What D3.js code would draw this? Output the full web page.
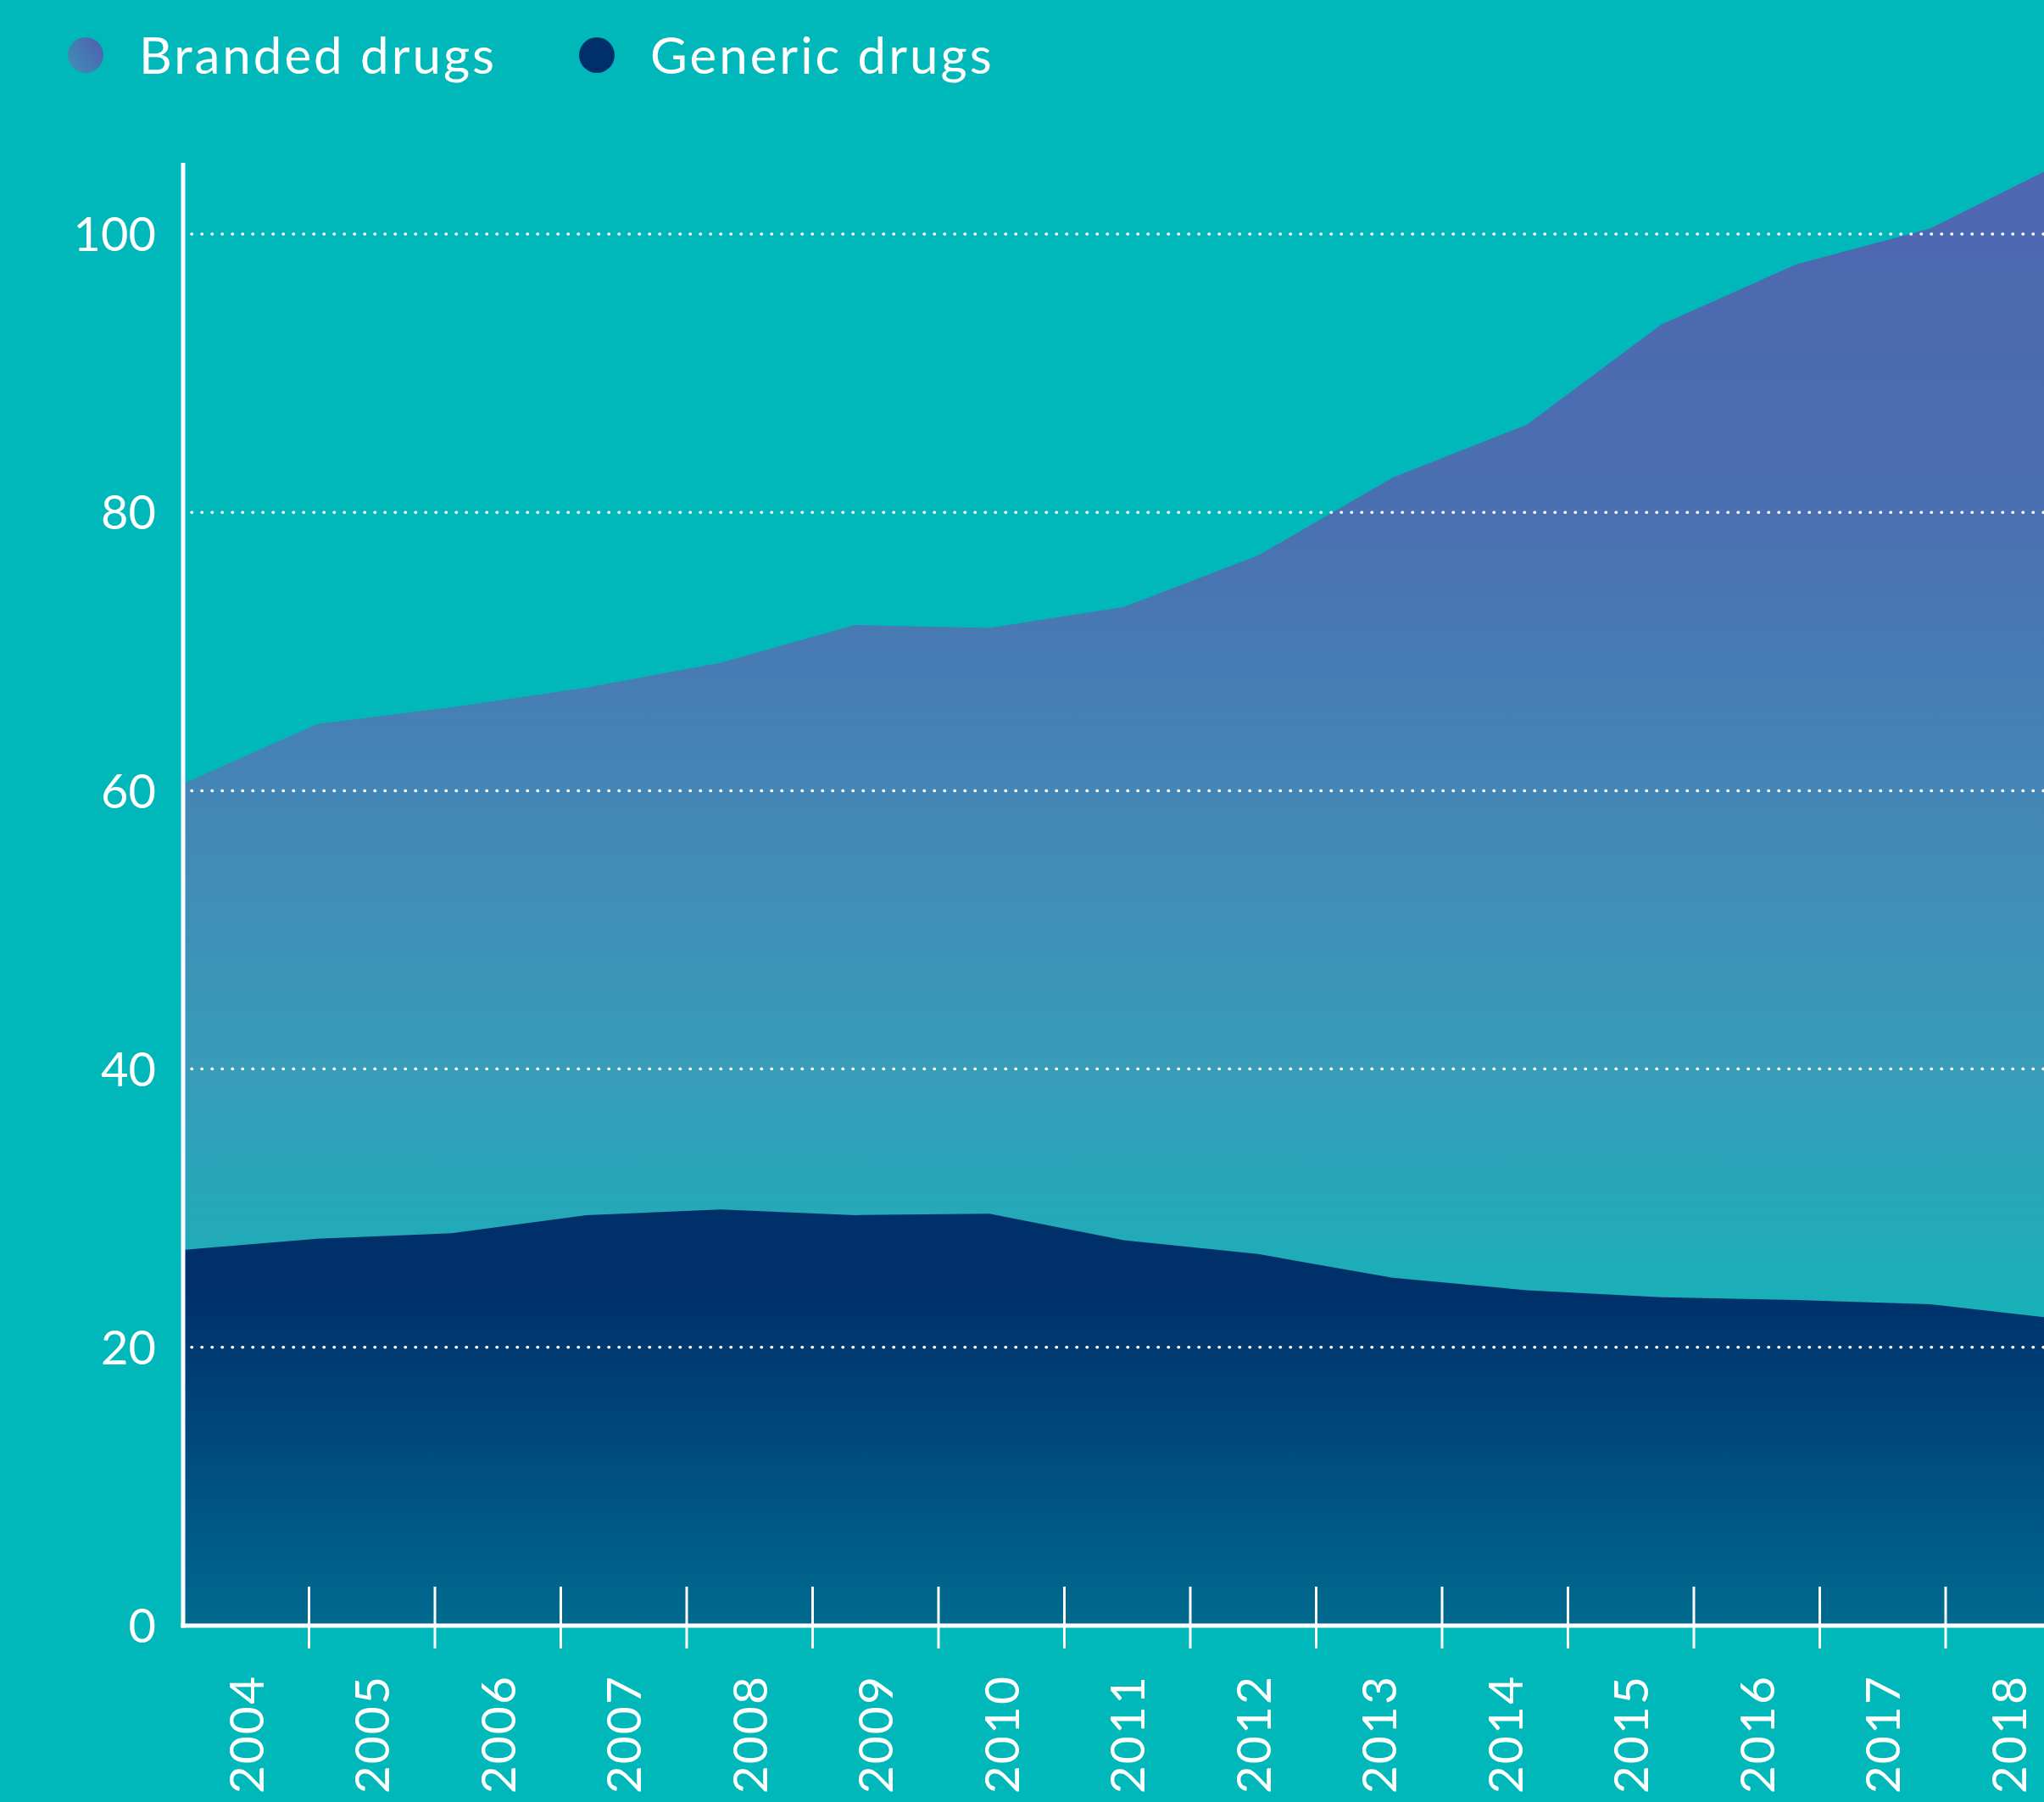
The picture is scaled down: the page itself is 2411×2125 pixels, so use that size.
<!DOCTYPE html>
<meta charset="utf-8">
<style>
body {
  margin: 0;
  background: #00b8ba;
}
text {
  font-family: Lato, "Open Sans", sans-serif;
  fill: #ffffff;
}
</style>
<body>
<script src="https://d3js.org/d3.v7.min.js"></script>
<script>
var width = 2411,
    height = 2125;

// years on the x axis
var years = [2004, 2005, 2006, 2007, 2008, 2009, 2010, 2011, 2012, 2013, 2014, 2015, 2016, 2017, 2018];
// generic drugs (bottom layer)
var generic = [27.0, 27.8, 28.2, 29.5, 29.9, 29.5, 29.6, 27.7, 26.7, 25.0, 24.1, 23.6, 23.4, 23.1, 22.0];
// branded drugs (stacked on top of generic)
var branded = [33.5, 37.0, 37.8, 37.9, 39.3, 42.4, 42.1, 45.5, 50.2, 57.5, 62.2, 69.9, 74.4, 77.3, 83.2];
var yTicks = [0, 20, 40, 60, 80, 100];
var legendLabels = ["Branded drugs", "Generic drugs"];

var rows = years.map(function(y, i) {
  return {year: y, generic: generic[i], branded: branded[i]};
});
var stack = d3.stack().keys(["generic", "branded"]);
var series = stack(rows);

var x0 = 216, baseY = 1917;

var x = d3.scaleLinear()
    .domain([2004, 2018])
    .range([x0, x0 + 14 * 158.5]);

var xBand = d3.scaleBand()
    .domain(years)
    .range([x0, x0 + 15 * 148.5]);

var y = d3.scaleLinear()
    .domain([0, 100])
    .range([baseY, baseY - 5 * 328.2]);

var svg = d3.select("body").append("svg")
    .attr("width", width)
    .attr("height", height);

svg.append("rect")
    .attr("width", width)
    .attr("height", height)
    .attr("fill", "#00b8ba");

var defs = svg.append("defs");

var gBranded = defs.append("linearGradient")
    .attr("id", "gradBranded")
    .attr("gradientUnits", "userSpaceOnUse")
    .attr("x1", 0).attr("x2", 0)
    .attr("y1", y(105)).attr("y2", y(0));
[[0, "#4e66b0"], [0.24, "#4a70b1"], [0.43, "#4486b5"], [0.62, "#389cb9"], [0.79, "#17b1b8"], [1, "#03bcba"]]
  .forEach(function(s) {
    gBranded.append("stop").attr("offset", s[0]).attr("stop-color", s[1]);
  });

var gGeneric = defs.append("linearGradient")
    .attr("id", "gradGeneric")
    .attr("gradientUnits", "userSpaceOnUse")
    .attr("x1", 0).attr("x2", 0)
    .attr("y1", y(24)).attr("y2", y(0));
gGeneric.append("stop").attr("offset", 0).attr("stop-color", "#00306a");
gGeneric.append("stop").attr("offset", 1).attr("stop-color", "#006a8f");

var gLegend = defs.append("linearGradient")
    .attr("id", "gradLegend")
    .attr("x1", 1).attr("y1", 0.2)
    .attr("x2", 0).attr("y2", 0.9);
gLegend.append("stop").attr("offset", 0).attr("stop-color", "#4e62b0");
gLegend.append("stop").attr("offset", 1).attr("stop-color", "#3f8fb6");

var area = d3.area()
    .x(function(d) { return x(d.data.year); })
    .y0(function(d) { return y(d[0]); })
    .y1(function(d) { return y(d[1]); });

// branded area reaches down to the baseline, generic sits on top of it
var areaFull = d3.area()
    .x(function(d) { return x(d.data.year); })
    .y0(y(0))
    .y1(function(d) { return y(d[1]); });

svg.append("path")
    .datum(series[1])
    .attr("d", areaFull)
    .attr("fill", "url(#gradBranded)");

svg.append("path")
    .datum(series[0])
    .attr("d", area)
    .attr("fill", "url(#gradGeneric)");

// dotted gridlines
svg.selectAll(".grid")
    .data(yTicks.filter(function(d) { return d > 0; }))
    .enter().append("line")
    .attr("class", "grid")
    .attr("x1", x0 + 10)
    .attr("x2", width)
    .attr("y1", function(d) { return y(d); })
    .attr("y2", function(d) { return y(d); })
    .attr("stroke", "#ffffff")
    .attr("stroke-width", 3.5)
    .attr("stroke-linecap", "round")
    .attr("stroke-dasharray", "0.5 11.5");

// y axis labels
svg.selectAll(".ylab")
    .data(yTicks)
    .enter().append("text")
    .attr("class", "ylab")
    .attr("x", 184)
    .attr("y", function(d) { return y(d); })
    .attr("dy", "0.36em")
    .attr("text-anchor", "end")
    .style("font-size", "56px")
    .text(function(d) { return d; });

// axis lines
svg.append("line")
    .attr("x1", x0).attr("x2", x0)
    .attr("y1", 192).attr("y2", baseY + 2.5)
    .attr("stroke", "#ffffff")
    .attr("stroke-width", 5);

svg.append("line")
    .attr("x1", x0 - 2.5).attr("x2", width)
    .attr("y1", baseY).attr("y2", baseY)
    .attr("stroke", "#ffffff")
    .attr("stroke-width", 5);

// x ticks between year bands
svg.selectAll(".xtick")
    .data(years.slice(1))
    .enter().append("line")
    .attr("class", "xtick")
    .attr("x1", function(d) { return xBand(d); })
    .attr("x2", function(d) { return xBand(d); })
    .attr("y1", baseY - 46)
    .attr("y2", baseY + 27)
    .attr("stroke", "#ffffff")
    .attr("stroke-width", 3);

svg.selectAll(".xlab")
    .data(years)
    .enter().append("text")
    .attr("class", "xlab")
    .attr("transform", function(d) {
      return "translate(" + (xBand(d) + xBand.bandwidth() / 2) + "," + 1975 + ") rotate(-90)";
    })
    .attr("dy", "0.36em")
    .attr("text-anchor", "end")
    .style("font-size", "57px")
    .style("letter-spacing", "2px")
    .text(function(d) { return d; });

// legend
var legendX = [101, 704];
var legendFill = ["url(#gradLegend)", "#00306a"];
var legend = svg.selectAll(".legend")
    .data(legendLabels)
    .enter().append("g")
    .attr("class", "legend")
    .attr("transform", function(d, i) { return "translate(" + legendX[i] + ",65)"; });

legend.append("circle")
    .attr("r", 21)
    .attr("fill", function(d, i) { return legendFill[i]; });

legend.append("text")
    .attr("x", 63)
    .attr("dy", "0.36em")
    .style("font-size", "60px")
    .style("letter-spacing", "3px")
    .text(function(d) { return d; });
</script>
</body>
</html>
